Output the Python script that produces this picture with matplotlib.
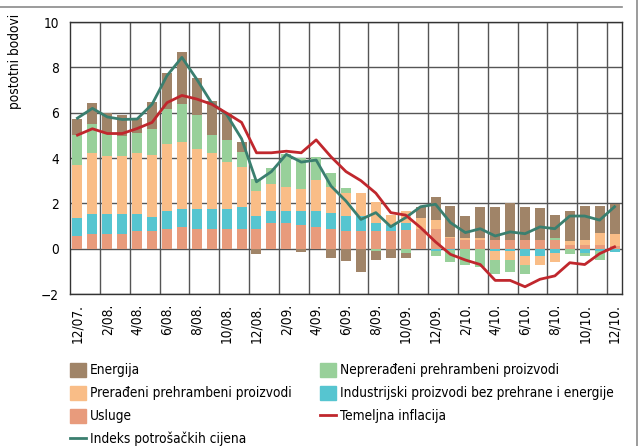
import matplotlib
matplotlib.use("Agg")
import matplotlib.pyplot as plt
from matplotlib import font_manager
from matplotlib.patches import Patch
from matplotlib.lines import Line2D
import numpy as np

# font: prefer a narrow / condensed sans if one is installed
fam, stretch = "Liberation Sans", "normal"
cands = [f for f in font_manager.fontManager.ttflist
         if f.stretch in ("condensed", "semi-condensed", "extra-condensed")
         and f.style == "normal" and f.weight in (400, "normal", "regular")]
for want in ["Liberation Sans Narrow", "DejaVu Sans", "Noto Sans", "Roboto", "Open Sans"]:
    hit = [f for f in cands if f.name.startswith(want)]
    if hit:
        fam, stretch = hit[0].name, hit[0].stretch
        break
plt.rcParams["font.family"] = [fam, "DejaVu Sans"]
plt.rcParams["font.stretch"] = stretch

# podaci (postotni bodovi), mjesecno 12/07. - 12/10.
usluge       = [0.54, 0.63, 0.63, 0.63, 0.78, 0.78, 0.85, 0.95, 0.85, 0.85, 0.85, 0.85, 0.85,
                1.12, 1.12, 1.03, 0.94, 0.85, 0.78, 0.80, 0.80, 0.80, 0.82, 0.87, 0.85,
                0.46, 0.38, 0.38, 0.38, 0.38, 0.38, 0.38, 0.38, 0.15, 0.15, 0.15, 0.10]
industrijski = [0.80, 0.88, 0.88, 0.88, 0.73, 0.63, 0.80, 0.78, 0.88, 0.88, 0.88, 0.99, 0.59,
                0.54, 0.53, 0.62, 0.71, 0.71, 0.66, 0.63, 0.33, 0.25, 0.30, 0.00, -0.10,
                -0.05, 0.00, 0.00, -0.10, -0.10, -0.32, -0.32, -0.20, 0.00, -0.20, -0.10, -0.15]
preradeni    = [2.35, 2.69, 2.58, 2.58, 2.71, 2.71, 2.95, 2.96, 2.65, 2.47, 2.09, 1.76, 1.10,
                1.18, 1.07, 0.98, 1.36, 1.16, 1.00, 1.01, 0.92, 0.43, 0.53, 0.47, 0.41,
                0.07, 0.07, 0.07, -0.41, -0.41, -0.40, -0.40, -0.38, 0.18, 0.23, 0.53, 0.54]
nepreradeni  = [1.32, 1.28, 1.00, 0.88, 0.87, 1.14, 1.54, 1.68, 1.50, 0.80, 0.96, 0.68, 0.55,
                0.70, 1.47, 1.38, 1.02, 0.60, 0.22, 0.00, -0.10, 0.00, -0.20, 0.00, -0.22,
                -0.55, -0.72, -0.81, -0.60, -0.50, -0.40, 0.00, 0.07, -0.25, -0.12, -0.40, 0.00]
energija     = [0.69, 0.93, 0.91, 0.91, 0.69, 1.21, 1.59, 2.30, 1.66, 1.51, 1.20, 0.43, -0.22,
                0.00, 0.00, -0.15, 0.00, -0.41, -0.55, -1.03, -0.40, -0.41, -0.21, 0.51, 1.00,
                1.34, 1.01, 1.41, 1.48, 1.65, 1.48, 1.40, 1.03, 1.32, 1.49, 1.19, 1.32]
indeks       = [5.76, 6.19, 5.81, 5.70, 5.72, 6.37, 7.63, 8.44, 7.47, 6.42, 5.92, 4.85, 2.95,
                3.40, 4.16, 3.82, 3.91, 2.76, 2.10, 1.29, 1.59, 0.97, 1.37, 1.85, 1.96,
                1.15, 0.71, 0.88, 0.56, 0.74, 0.66, 0.96, 0.88, 1.44, 1.44, 1.26, 1.85]
temeljna     = [5.01, 5.29, 5.08, 5.08, 5.30, 5.57, 6.44, 6.76, 6.60, 6.37, 5.98, 5.57, 4.23,
                4.23, 4.30, 4.23, 4.80, 4.05, 3.40, 3.00, 2.45, 1.59, 1.48, 0.93, 0.30,
                -0.25, -0.50, -0.70, -1.40, -1.40, -1.68, -1.35, -1.20, -0.62, -0.70, -0.22, 0.08]
tick_labels = ["12/07.", "2/08.", "4/08.", "6/08.", "8/08.", "10/08.", "12/08.",
               "2/09.", "4/09.", "6/09.", "8/09.", "10/09.", "12/09.",
               "2/10.", "4/10.", "6/10.", "8/10.", "10/10.", "12/10."]

c_usl = "#e89b7c"
c_ind = "#56c5d0"
c_pre = "#f9bd87"
c_nep = "#98d09a"
c_ene = "#a08468"
c_cpi = "#3a7f6f"
c_tem = "#c0272d"

W, H = 639, 446
fig = plt.figure(figsize=(W / 100, H / 100), dpi=100)

# pick a font size so the longest legend label is about as wide as in the original
t = fig.text(0, 0, "Industrijski proizvodi bez prehrane i energije", fontsize=10.5)
w = t.get_window_extent(renderer=fig.canvas.get_renderer()).width
t.remove()
fs = min(10.5, 10.5 * 276 / w)
fs_px = fs * 100 / 72

ax = fig.add_axes([70 / W, 1 - 294 / H, (622 - 70) / W, (294 - 22) / H])

x = np.arange(len(usluge))
pos = np.zeros(len(x))
neg = np.zeros(len(x))
for vals, col in [(usluge, c_usl), (industrijski, c_ind), (preradeni, c_pre),
                  (nepreradeni, c_nep), (energija, c_ene)]:
    v = np.array(vals)
    p = np.where(v > 0, v, 0)
    n = np.where(v < 0, v, 0)
    ax.bar(x, p, bottom=pos, width=0.67, color=col, zorder=2)
    ax.bar(x, n, bottom=neg, width=0.67, color=col, zorder=2)
    pos += p
    neg += n

ax.plot(x, indeks, color=c_cpi, lw=2.0, zorder=3)
ax.plot(x, temeljna, color=c_tem, lw=2.0, zorder=4)

ax.set_xlim(-0.5, len(x) - 0.5)
ax.set_ylim(-2, 10)
ax.set_yticks(range(-2, 11, 2))
ax.set_xticks(x[::2])
ax.set_xticklabels(tick_labels, rotation=90)
ax.tick_params(axis="both", length=0, labelsize=fs)
ax.tick_params(axis="x", pad=7)
ax.tick_params(axis="y", pad=8)

# mreza
for yv in range(-2, 11, 2):
    ax.axhline(yv, color="#555555", lw=1.0, zorder=1)
for xv in np.arange(1.5, len(x) - 0.5, 2):
    ax.axvline(xv, color="#555555", lw=1.0, zorder=1)
for s in ax.spines.values():
    s.set_color("#333333")
    s.set_linewidth(1.0)

fig.text(15 / W, 1 - 61 / H, "postotni bodovi", rotation=90, ha="center", va="center",
         fontsize=fs)

# okvir slike
fig.add_artist(Line2D([0, 622 / W], [1 - 7 / H, 1 - 7 / H], color="#8a8a8a", lw=1.2))
fig.add_artist(Line2D([637 / W, 637 / W], [0, 1], color="#8a8a8a", lw=1.2))

# legenda u dva stupca
leg_kw = dict(loc="upper left", frameon=False, fontsize=fs,
              handlelength=16 / fs_px, handleheight=16 / fs_px, handletextpad=4 / fs_px,
              labelspacing=8.5 / fs_px, borderpad=0, borderaxespad=0)
fig.legend([Patch(color=c_ene), Patch(color=c_pre), Patch(color=c_usl),
            Line2D([], [], color=c_cpi, lw=2.0)],
           ["Energija", "Prerađeni prehrambeni proizvodi", "Usluge",
            "Indeks potrošačkih cijena"],
           bbox_to_anchor=(70 / W, 1 - 363 / H), **leg_kw)
fig.legend([Patch(color=c_nep), Patch(color=c_ind), Line2D([], [], color=c_tem, lw=2.0)],
           ["Neprerađeni prehrambeni proizvodi",
            "Industrijski proizvodi bez prehrane i energije", "Temeljna inflacija"],
           bbox_to_anchor=(320 / W, 1 - 363 / H), **leg_kw)

fig.savefig("out.png", dpi=100)
